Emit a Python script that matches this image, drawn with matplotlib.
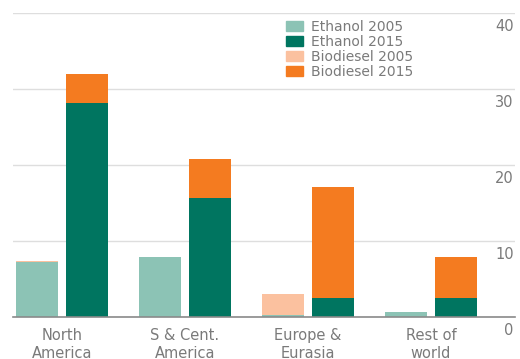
import numpy as np
import matplotlib.pyplot as plt
from matplotlib.patches import Patch
from matplotlib.transforms import ScaledTranslation

# ethanol and biodiesel by region, 2005 vs 2015
regions = ["North\nAmerica", "S & Cent.\nAmerica", "Europe &\nEurasia", "Rest of\nworld"]
ethanol_2005 = [7.2, 7.9, 0.3, 0.7]
biodiesel_2005 = [0.2, 0.0, 2.7, 0.0]
ethanol_2015 = [28.2, 15.7, 2.5, 2.5]
biodiesel_2015 = [3.8, 5.1, 14.6, 5.4]
yticks = [0, 10, 20, 30, 40]

C_ETH05 = "#8cc3b5"
C_ETH15 = "#007560"
C_BIO05 = "#fbc19f"
C_BIO15 = "#f47b20"
GREY = "#7a7a7a"

fig = plt.figure(figsize=(5.2, 3.59), dpi=100)
ax = fig.add_axes([13 / 520, 42 / 359, 502 / 520, 304 / 359])

pos = np.arange(len(regions))
w = 0.34
off = 0.203
ax.bar(pos - off, ethanol_2005, w, color=C_ETH05, zorder=3)
ax.bar(pos - off, biodiesel_2005, w, bottom=ethanol_2005, color=C_BIO05, zorder=3)
ax.bar(pos + off, ethanol_2015, w, color=C_ETH15, zorder=3)
ax.bar(pos + off, biodiesel_2015, w, bottom=ethanol_2015, color=C_BIO15, zorder=3)

ax.set_xlim(-0.398, 3.683)
ax.set_ylim(0, 40)

for s in ["top", "left", "right"]:
    ax.spines[s].set_visible(False)
ax.spines["bottom"].set_color("#8a8a8a")
ax.spines["bottom"].set_linewidth(1.2)
ax.spines["bottom"].set_zorder(4)

ax.set_yticks(yticks)
ax.yaxis.grid(True, color="#dedede", linewidth=1.0, zorder=0)
ax.yaxis.tick_right()
ax.tick_params(axis="y", length=0, pad=-1, labelsize=10.5, labelcolor=GREY)
shift = ScaledTranslation(0, -4 / 72, fig.dpi_scale_trans)
for lab in ax.get_yticklabels():
    lab.set_horizontalalignment("right")
    lab.set_verticalalignment("top")
    lab.set_transform(lab.get_transform() + shift)

ax.set_xticks(pos)
ax.set_xticklabels(regions, fontsize=10.5, color=GREY, linespacing=1.2)
ax.tick_params(axis="x", length=0, pad=8)

handles = [Patch(color=C_ETH05), Patch(color=C_ETH15),
           Patch(color=C_BIO05), Patch(color=C_BIO15)]
labels = ["Ethanol 2005", "Ethanol 2015", "Biodiesel 2005", "Biodiesel 2015"]
leg = ax.legend(handles, labels, loc="upper left", bbox_to_anchor=(286 / 520, 1 - 20 / 359),
                bbox_transform=fig.transFigure, frameon=False, fontsize=10,
                handlelength=1.2, handleheight=0.8, handletextpad=0.6,
                labelspacing=0.07, borderpad=0, borderaxespad=0)
for t in leg.get_texts():
    t.set_color(GREY)

fig.savefig("out.png", dpi=100)
